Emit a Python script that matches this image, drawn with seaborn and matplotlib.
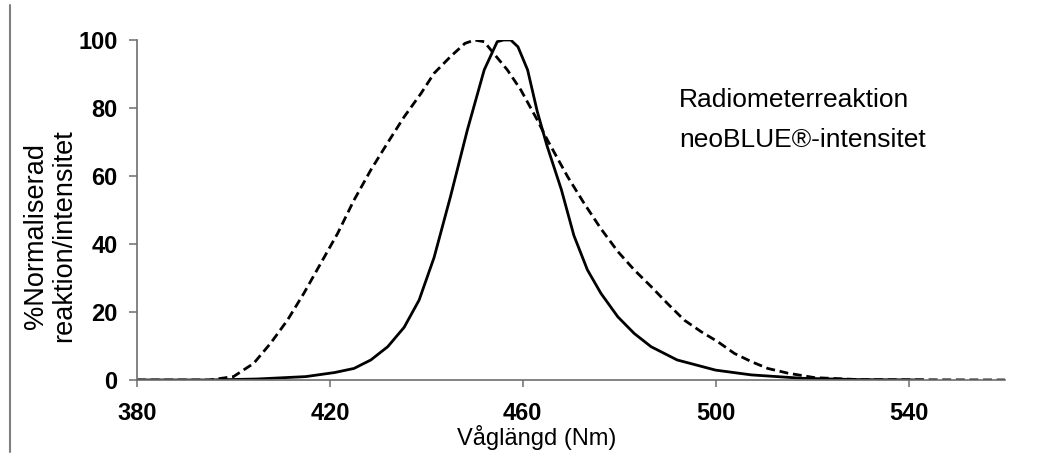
import matplotlib
matplotlib.use("Agg")
import matplotlib.pyplot as plt
from matplotlib.lines import Line2D
import seaborn as sns
import pandas as pd

# ---- data ----
radiometer_nm = [380, 395, 405, 415, 421, 425, 428.5, 432, 435.4, 438.5, 441.6, 445,
                 448.5, 452, 454.7, 456, 457.5, 459, 461, 463, 465, 468, 470.6, 473.4,
                 476.2, 479.7, 483.1, 486.6, 492, 500, 507.4, 518, 530, 543]
radiometer_val = [0, 0, 0.3, 1.0, 2.2, 3.4, 5.9, 9.8, 15.5, 23.5, 36, 53.9,
                  73.5, 91.2, 99.5, 100, 100, 98, 91.2, 79, 69, 56, 42.5, 32.4,
                  25.5, 18.6, 13.7, 9.8, 5.9, 2.9, 1.5, 0.5, 0.1, 0]

neoblue_nm = [380, 395, 400, 404.2, 407.7, 411.2, 414.6, 418.1, 421.6, 425, 428.5, 431.9,
              435.4, 438.9, 441.6, 445, 448, 450, 452, 454, 456.8, 459.6, 463, 465.1,
              469.3, 472.7, 476.2, 479.7, 483.1, 486.6, 490, 493.5, 497, 500.4, 503.9,
              507.4, 510.8, 515, 520.5, 530, 560]
neoblue_val = [0, 0, 1, 4.9, 10.8, 17.6, 25.5, 34.3, 43.1, 52.9, 61.8, 69.6,
               77.4, 84.3, 90.2, 95.1, 99, 100, 99.5, 96, 91.2, 85.3, 76.5, 70.6,
               59.8, 52, 44.5, 37.8, 32.4, 27.5, 22.5, 17.6, 14.2, 11.3, 7.8,
               5.4, 3.4, 2, 0.7, 0.1, 0]

series_labels = ["Radiometerreaktion", "neoBLUE\u00ae-intensitet"]
x_ticks = [380, 420, 460, 500, 540]
y_ticks = [0, 20, 40, 60, 80, 100]
x_label = "Våglängd (Nm)"
y_label = "%Normaliserad\nreaktion/intensitet"

df = pd.concat([
    pd.DataFrame({"nm": radiometer_nm, "val": radiometer_val, "serie": series_labels[0]}),
    pd.DataFrame({"nm": neoblue_nm, "val": neoblue_val, "serie": series_labels[1]}),
], ignore_index=True)

sns.set_theme(style="white")
plt.rcParams["font.family"] = ["Liberation Sans", "DejaVu Sans"]
plt.rcParams["text.color"] = "black"
plt.rcParams["axes.labelcolor"] = "black"
plt.rcParams["lines.solid_joinstyle"] = "round"
plt.rcParams["lines.dash_joinstyle"] = "round"

W, H = 1049, 457
fig = plt.figure(figsize=(W / 100, H / 100), dpi=100)
ax = fig.add_axes([137 / W, 1 - 380 / H, (1005 - 137) / W, 340 / H])

sns.lineplot(data=df, x="nm", y="val", style="serie", style_order=series_labels,
             dashes={series_labels[0]: "", series_labels[1]: (3.2, 1.7)},
             color="black", linewidth=2.0, estimator=None, sort=False, ax=ax,
             legend=False)

ax.set_xlim(380, 560)
ax.set_ylim(0, 100)
ax.set_xticks(x_ticks)
ax.set_yticks(y_ticks)
ax.set_xticklabels([str(t) for t in x_ticks])
ax.set_yticklabels([str(t) for t in y_ticks])

for s in ["top", "right"]:
    ax.spines[s].set_visible(False)
for s in ["left", "bottom"]:
    ax.spines[s].set_color("#6e6e6e")
    ax.spines[s].set_linewidth(1.2)

ax.tick_params(axis="x", which="major", direction="out", length=5, width=1.1,
               color="#6e6e6e", pad=11, labelsize=17, bottom=True)
ax.tick_params(axis="y", which="major", direction="out", length=6, width=1.1,
               color="#6e6e6e", pad=8, labelsize=17, left=True)
for lab in ax.get_xticklabels() + ax.get_yticklabels():
    lab.set_fontweight("bold")
    lab.set_color("black")

ax.set_xlabel(x_label, fontsize=17, color="black")
ax.xaxis.set_label_coords((537 - 137) / 868, -(438 - 380) / 340)
ax.xaxis.label.set_va("center")
ax.set_ylabel("")
fig.text(50 / W, 1 - 236 / H, y_label, rotation=90, ha="center", va="center",
         multialignment="center", fontsize=19.5, color="black", linespacing=1.1)

# legend (text only, as in the reference)
handles = [Line2D([], [], color="black", lw=2.0),
           Line2D([], [], color="black", lw=2.0, ls="--")]
leg = ax.legend(handles, series_labels, loc="upper left",
                bbox_to_anchor=((679 - 137) / 868, 1 - (88 - 40) / 340),
                frameon=False, handlelength=0, handletextpad=0, borderpad=0,
                borderaxespad=0, labelspacing=0.62, fontsize=19)
for h in leg.legend_handles:
    h.set_visible(False)
for t in leg.get_texts():
    t.set_color("black")

# left border line of the original figure
fig.add_artist(Line2D([10 / W, 10 / W], [1 - 452 / H, 1 - 5 / H],
                      transform=fig.transFigure, color="#808080", lw=1.5))

fig.savefig("out.png", dpi=100, facecolor="white")
